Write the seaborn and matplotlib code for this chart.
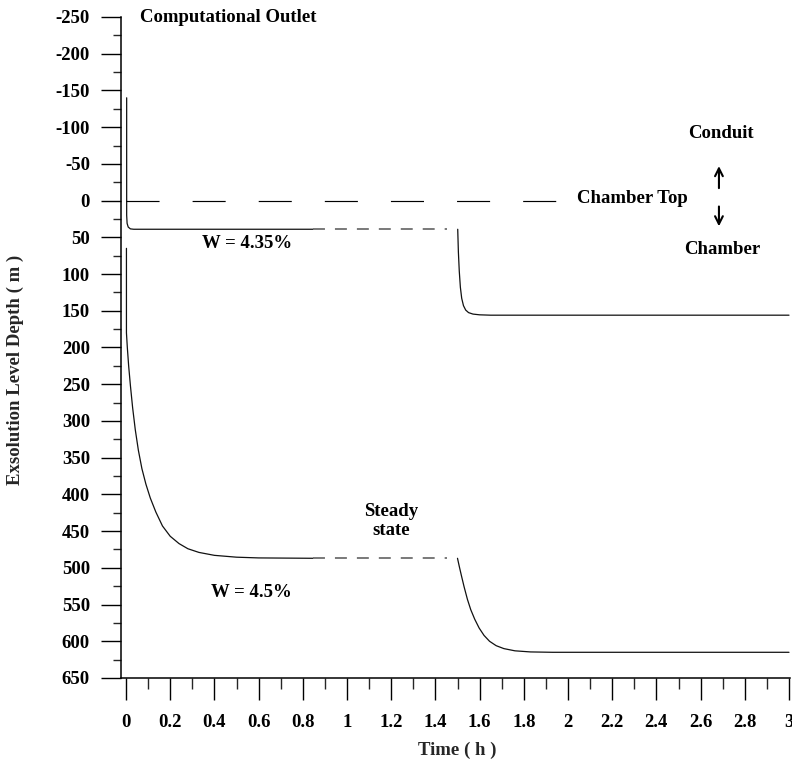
import numpy as np
import pandas as pd
import matplotlib
matplotlib.use("Agg")
import matplotlib.pyplot as plt
from matplotlib.ticker import MultipleLocator, FixedLocator
import seaborn as sns

# W = 4.35% : run-up to steady state, then the restart after 1.5 h
upper_t1 = [0.003, 0.003, 0.005, 0.010, 0.020, 0.035, 0.846]
upper_d1 = [-140, 20, 31, 36, 38.5, 39, 39]
upper_t2 = [1.501, 1.504, 1.508, 1.513, 1.519, 1.527, 1.537, 1.550, 1.570,
            1.600, 1.650, 3.0]
upper_d2 = [39, 70, 96, 118, 133, 143, 149, 152.5, 154.5,
            155.5, 156, 156]

# W = 4.5%
lower_t1 = [0.002, 0.002, 0.006, 0.012, 0.020, 0.030, 0.042, 0.056, 0.072,
            0.090, 0.110, 0.135, 0.165, 0.200, 0.240, 0.280, 0.330, 0.400,
            0.500, 0.600, 0.846]
lower_d1 = [65, 180, 200, 225, 252, 282, 312, 340, 365,
            386, 405, 424, 443, 457, 467, 474, 479, 483,
            485.5, 486.5, 487]
lower_t2 = [1.500, 1.508, 1.518, 1.530, 1.545, 1.560, 1.578, 1.598, 1.620,
            1.645, 1.675, 1.710, 1.760, 1.830, 1.930, 3.0]
lower_d2 = [487, 498, 511, 526, 543, 557, 570, 582, 592,
            600, 606, 610, 613, 614.5, 615, 615]

# steady-state bridges (dashed)
steady_t = [0.846, 1.452]
upper_steady = [39, 39]
lower_steady = [487, 487]

# chamber top reference line
chamber_t = [0.0, 1.95]
chamber_d = [0, 0]

x_ticks = [0, 0.2, 0.4, 0.6, 0.8, 1, 1.2, 1.4, 1.6, 1.8, 2, 2.2, 2.4, 2.6, 2.8, 3]
x_tick_labels = ["0", "0.2", "0.4", "0.6", "0.8", "1", "1.2", "1.4", "1.6",
                 "1.8", "2", "2.2", "2.4", "2.6", "2.8", "3"]
y_ticks = list(range(-250, 651, 50))
y_tick_labels = [str(v) for v in y_ticks]


def draw(ax, t, d, **kw):
    df = pd.DataFrame({"t": t, "d": d})
    sns.lineplot(data=df, x="t", y="d", sort=False, estimator=None, ax=ax, **kw)


sns.set_theme(style="ticks")
plt.rcParams["font.family"] = ["Liberation Serif", "DejaVu Serif"]
plt.rcParams["font.weight"] = "bold"
plt.rcParams["axes.unicode_minus"] = False
plt.rcParams["lines.scale_dashes"] = False

fig = plt.figure(figsize=(7.92, 7.62), dpi=100)
W, H = 792, 762
ax = fig.add_axes([121 / W, 1 - 678 / H, (790 - 121) / W, (678 - 17) / H])

px = 3.0 / 663
ax.set_xlim(-5 * px, 3 + 1 * px)
ax.set_ylim(650, -250)

curve_kw = dict(color="#111111", lw=0.9)
draw(ax, upper_t1, upper_d1, **curve_kw)
draw(ax, upper_t2, upper_d2, **curve_kw)
draw(ax, lower_t1, lower_d1, **curve_kw)
draw(ax, lower_t2, lower_d2, **curve_kw)

dash_kw = dict(color="#6e6e6e", lw=1.3, linestyle=(0, (8.6, 7.2)))
draw(ax, steady_t, upper_steady, **dash_kw)
draw(ax, steady_t, lower_steady, **dash_kw)

draw(ax, chamber_t, chamber_d, color="black", lw=0.85,
     linestyle=(0, (23.8, 23.8)))

# axes styling
for s in ["top", "right"]:
    ax.spines[s].set_visible(False)
for s in ["left", "bottom"]:
    ax.spines[s].set_linewidth(1.1)
    ax.spines[s].set_color("black")

ax.xaxis.set_major_locator(FixedLocator(x_ticks))
ax.set_xticklabels(x_tick_labels)
ax.xaxis.set_minor_locator(MultipleLocator(0.1))
ax.yaxis.set_major_locator(FixedLocator(y_ticks))
ax.set_yticklabels(y_tick_labels)
ax.yaxis.set_minor_locator(MultipleLocator(25))

ax.tick_params(axis="x", which="major", direction="out", length=15.8,
               width=1.0, pad=10, labelsize=13.5, colors="black")
ax.tick_params(axis="x", which="minor", direction="out", length=7.9,
               width=1.0)
ax.tick_params(axis="y", which="major", direction="out", length=14.4,
               width=1.0, pad=8, labelsize=13.5, colors="black")
ax.tick_params(axis="y", which="minor", direction="out", length=5.8,
               width=1.0)
for lab in ax.get_xticklabels() + ax.get_yticklabels():
    lab.set_fontweight("bold")

ax.set_xlabel("")
ax.set_ylabel("")
fig.text(457 / W, 1 - 750 / H, "Time ( h )", ha="center", va="center",
         fontsize=13.5, fontweight="bold")
fig.text(15 / W, 1 - 370 / H, "Exsolution Level Depth ( m )", rotation=90,
         ha="center", va="center", fontsize=13.5, fontweight="bold")

txt = dict(fontsize=13.5, fontweight="bold", color="black")
ax.text(0.063, -249, "Computational Outlet", ha="left", va="center", **txt)
ax.text(0.547, 58, "W = 4.35%", ha="center", va="center", **txt)
ax.text(0.566, 533, "W = 4.5%", ha="center", va="center", **txt)
ax.text(1.198, 436, "Steady\nstate", ha="center", va="center",
        multialignment="center", linespacing=1.15, **txt)
ax.text(2.04, -3, "Chamber Top", ha="left", va="center", **txt)
ax.text(2.69, -92, "Conduit", ha="center", va="center", **txt)
ax.text(2.697, 67, "Chamber", ha="center", va="center", **txt)

arrow_kw = dict(arrowstyle="->", lw=1.5, color="black", mutation_scale=14,
                shrinkA=0, shrinkB=0)
ax.annotate("", xy=(2.683, -47), xytext=(2.683, -17), arrowprops=arrow_kw)
ax.annotate("", xy=(2.683, 35), xytext=(2.683, 8), arrowprops=arrow_kw)

fig.savefig("out.png", dpi=100, facecolor="white")
